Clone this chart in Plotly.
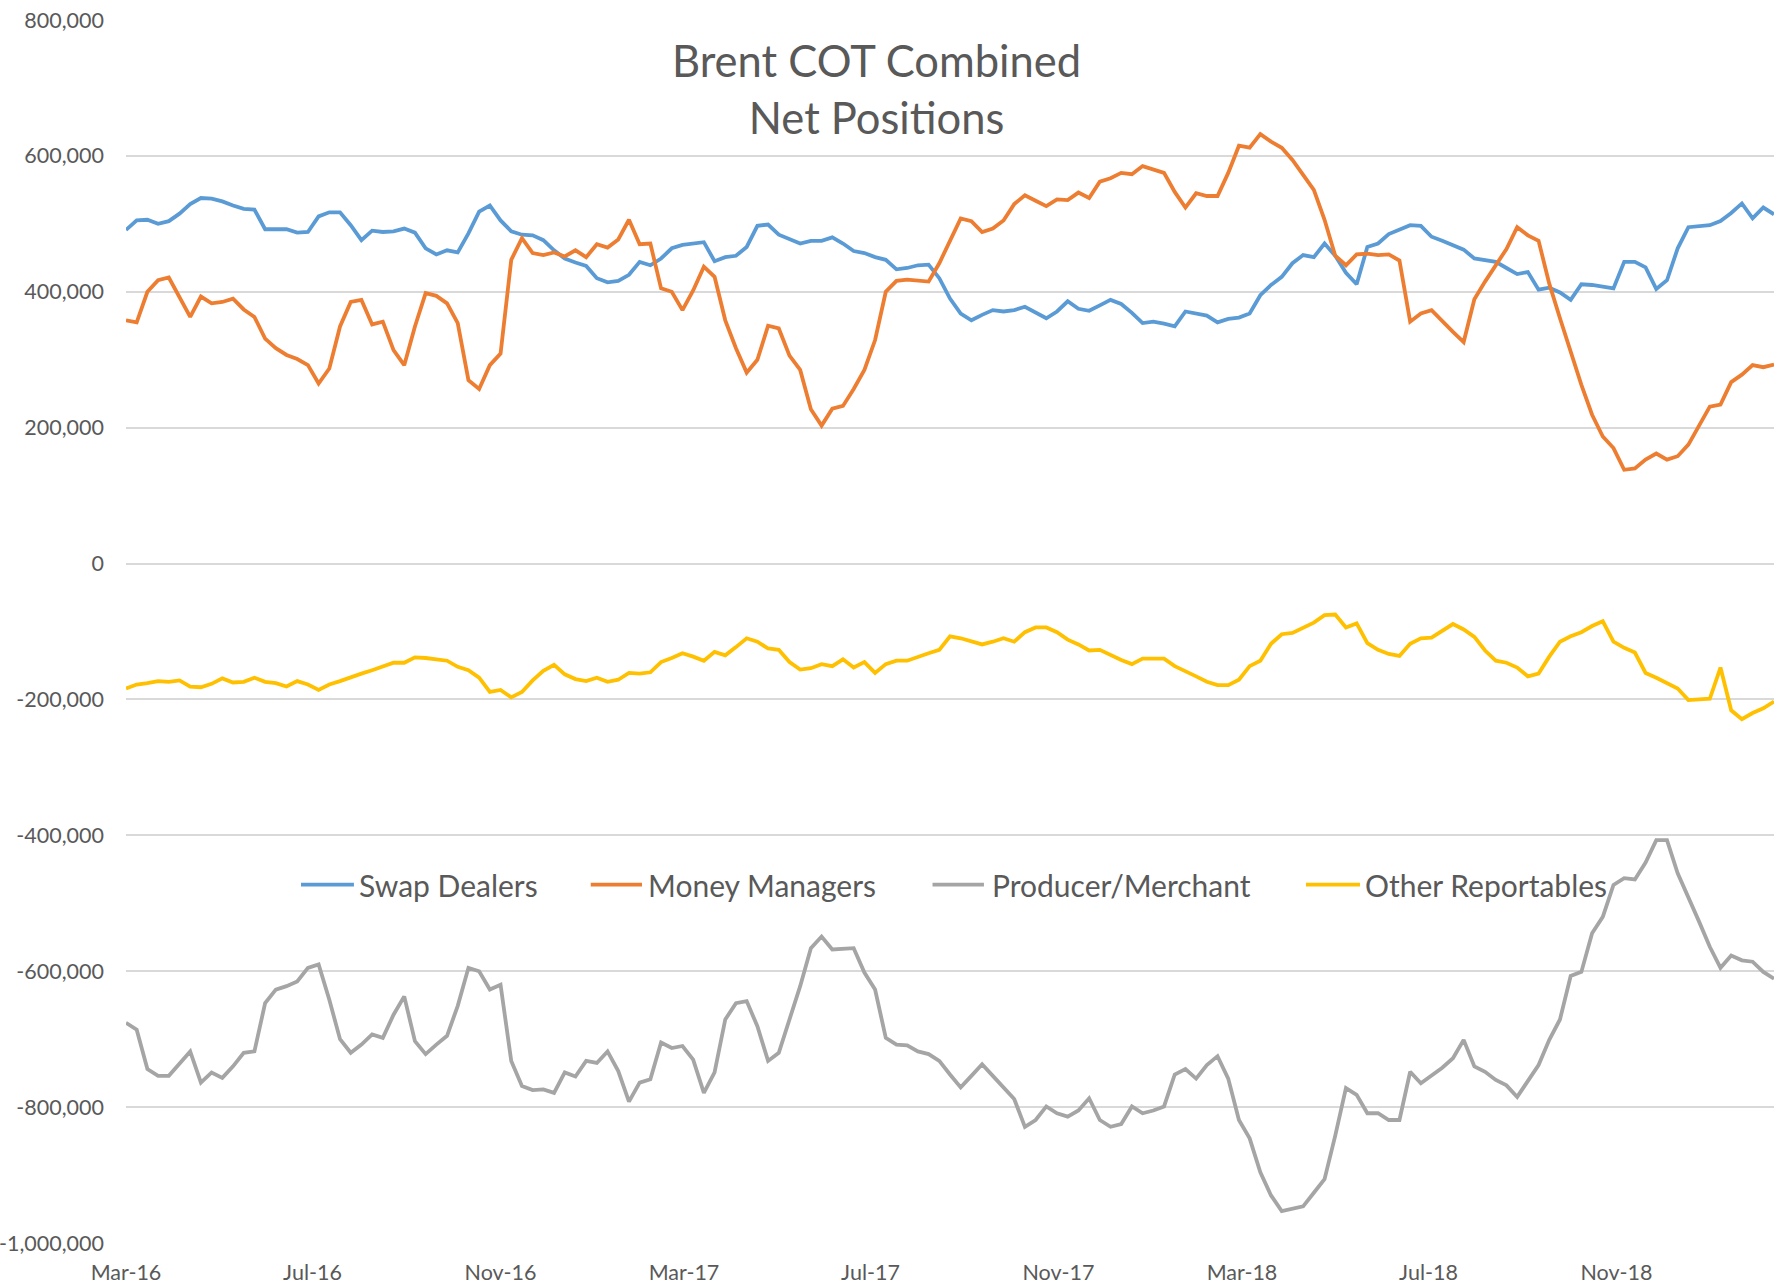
"""
Brent COT combined net positions, weekly, Mar-16 to Feb-19
"""
import pandas as pd
import plotly.graph_objects as go

# weekly report dates (Tuesdays)
first_report = "2016-03-01"
n_reports = 155

# net positions, thousand contracts
swap_dealers = [
    491, 505, 506, 500, 504, 515, 529, 538, 537, 533, 527, 522, 521, 492, 492, 492,
    487, 488, 511, 517, 517, 498, 476, 490, 488, 489, 493, 487, 464, 455, 461, 458,
    486, 518, 527, 505, 489, 484, 483, 476, 461, 449, 443, 438, 420, 414, 416, 425,
    444, 439, 449, 464, 469, 471, 473, 445, 451, 453, 466, 497, 499, 484, 478, 471,
    475, 475, 480, 471, 460, 457, 451, 447, 433, 435, 439, 440, 420, 390, 368, 358,
    366, 373, 371, 373, 378, 369, 361, 371, 386, 375, 372, 380, 388, 382, 369, 354,
    356, 353, 349, 371, 368, 365, 355, 360, 362, 368, 395, 410, 422, 442, 454, 451,
    471, 453, 428, 411, 466, 471, 485, 492, 498, 497, 481, 475, 469, 462, 449, 447,
    444, 435, 426, 429, 403, 406, 399, 388, 411, 410, 407, 405, 444, 444, 436, 404,
    417, 464, 495, 496, 498, 504, 516, 530, 508, 524, 514,
]
money_managers = [
    358, 355, 400, 417, 421, 393, 363, 393, 383, 385, 390, 374, 363, 331, 317, 307,
    301, 292, 265, 287, 349, 385, 388, 352, 356, 314, 292, 349, 398, 394, 383, 354,
    270, 257, 292, 309, 447, 479, 457, 454, 458, 452, 461, 451, 470, 465, 477, 506,
    470, 471, 405, 400, 373, 402, 437, 422, 358, 317, 281, 300, 350, 346, 306, 285,
    227, 203, 228, 232, 257, 285, 329, 400, 416, 418, 417, 415, 442, 476, 508, 504,
    488, 493, 505, 529, 542, 534, 526, 536, 535, 546, 538, 562, 567, 575, 573, 585,
    580, 575, 547, 524, 545, 541, 541, 575, 615, 612, 632, 621, 612, 594, 572, 550,
    506, 453, 439, 455, 456, 454, 455, 446, 356, 368, 373, 356, 341, 326, 389, 415,
    438, 463, 495, 483, 475, 412, 361, 310, 263, 219, 187, 170, 138, 140, 153, 162,
    153, 158, 175, 203, 231, 234, 267, 278, 292, 289, 293,
]
producer_merchant = [
    -676, -686, -744, -754, -754, -735, -718, -764, -749, -757, -740, -720, -718, -647, -627, -622,
    -615, -595, -590, -642, -700, -720, -708, -693, -698, -664, -637, -703, -722, -708, -695, -651,
    -595, -600, -627, -620, -732, -769, -775, -774, -779, -749, -755, -732, -735, -718, -747, -792,
    -764, -759, -705, -713, -710, -730, -779, -749, -671, -647, -644, -681, -732, -720, -671, -622,
    -566, -549, -568, -567, -566, -602, -627, -698, -708, -709, -718, -722, -732, -752, -771, -754,
    -737, -754, -771, -788, -829, -819, -799, -809, -814, -805, -787, -819, -829, -825, -799, -809,
    -805, -799, -752, -744, -758, -738, -725, -758, -819, -846, -896, -930, -953, -950, -946, -926,
    -906, -842, -772, -782, -809, -809, -819, -819, -748, -765, -754, -742, -728, -701, -740, -748,
    -760, -768, -785, -762, -738, -701, -671, -607, -601, -544, -520, -473, -463, -465, -440, -407,
    -407, -456, -490, -527, -564, -595, -577, -584, -586, -601, -611,
]
other_reportables = [
    -184, -178, -176, -173, -174, -172, -181, -182, -177, -169, -175, -174, -168, -174, -176, -181,
    -173, -178, -186, -178, -173, -167, -162, -157, -152, -146, -146, -138, -139, -141, -143, -152,
    -157, -168, -189, -186, -197, -189, -172, -158, -149, -163, -170, -173, -168, -174, -171, -161,
    -162, -160, -145, -139, -132, -137, -143, -130, -135, -123, -110, -115, -125, -127, -145, -156,
    -154, -148, -151, -141, -153, -145, -161, -148, -143, -143, -137, -132, -127, -107, -110, -115,
    -119, -115, -110, -115, -101, -94, -94, -101, -112, -119, -128, -127, -135, -142, -148, -140,
    -140, -140, -151, -158, -166, -174, -179, -179, -171, -151, -143, -118, -104, -102, -94, -87,
    -76, -75, -94, -88, -117, -127, -133, -136, -118, -110, -109, -99, -89, -97, -108, -128,
    -143, -146, -153, -166, -162, -137, -115, -107, -101, -92, -85, -115, -124, -131, -161, -168,
    -176, -184, -201, -200, -199, -153, -216, -229, -220, -213, -203,
]

series_names = ["Swap Dealers", "Money Managers", "Producer/Merchant", "Other Reportables"]
series_colors = ["#5B9BD5", "#ED7D31", "#A5A5A5", "#FFC000"]

y_tickvals = [800000, 600000, 400000, 200000, 0, -200000, -400000, -600000, -800000, -1000000]
y_ticktext = ["800,000", "600,000", "400,000", "200,000", "0", "-200,000",
              "-400,000", "-600,000", "-800,000", "-1,000,000"]

# legend drawn by hand (Excel style: long keys, wide even gaps)
# (key start, key end, text start) in paper fractions of the plot width
legend_slots = [
    (0.1062, 0.1383, 0.1405),
    (0.2820, 0.3131, 0.3160),
    (0.4894, 0.5206, 0.5249),
    (0.7160, 0.7488, 0.7512),
]
legend_y = 0.293

TEXT = "#595959"
GRID = "#D9D9D9"
FONT = "Lato"

dates = pd.date_range(first_report, periods=n_reports, freq="7D")
all_series = [swap_dealers, money_managers, producer_merchant, other_reportables]

fig = go.Figure()
for name, color, vals in zip(series_names, series_colors, all_series):
    fig.add_trace(go.Scatter(
        x=dates,
        y=[v * 1000 for v in vals],
        mode="lines",
        name=name,
        line=dict(color=color, width=3.8),
        showlegend=False,
    ))

for name, color, (k0, k1, tx) in zip(series_names, series_colors, legend_slots):
    fig.add_shape(
        type="line", xref="paper", yref="paper",
        x0=k0, x1=k1, y0=legend_y, y1=legend_y,
        line=dict(color=color, width=3.8),
        layer="above",
    )
    fig.add_annotation(
        text=name, xref="paper", yref="paper",
        x=tx, y=legend_y, xanchor="left", yanchor="middle",
        showarrow=False, borderpad=0,
        font=dict(family=FONT, size=30, color=TEXT),
    )

fig.add_annotation(
    text="Brent COT Combined<br>Net Positions",
    xref="paper", yref="paper",
    x=0.4555, y=0.9905,
    xanchor="center", yanchor="top",
    showarrow=False,
    font=dict(family=FONT, size=43.5, color=TEXT),
)

fig.update_layout(
    width=1783,
    height=1287,
    margin=dict(l=126, r=9, t=20, b=44),
    paper_bgcolor="white",
    plot_bgcolor="white",
    font=dict(family=FONT, color=TEXT),
    showlegend=False,
    xaxis=dict(
        type="date",
        range=[dates[0], dates[-1]],
        tick0=first_report,
        dtick="M4",
        tickformat="%b-%y",
        showgrid=False,
        showline=False,
        zeroline=False,
        ticks="",
        automargin=False,
        ticklabelstandoff=14,
        tickfont=dict(family=FONT, size=21.5, color=TEXT),
    ),
    yaxis=dict(
        range=[-1000000, 800000],
        tickvals=y_tickvals,
        ticktext=y_ticktext,
        showgrid=True,
        gridcolor=GRID,
        gridwidth=1.5,
        zeroline=False,
        showline=False,
        ticks="",
        automargin=False,
        ticklabelstandoff=21,
        tickfont=dict(family=FONT, size=21.5, color=TEXT),
    ),
)

fig.write_html(
    "out.html",
    config={"displayModeBar": False},
    post_script="document.body.style.margin='0';",
)
